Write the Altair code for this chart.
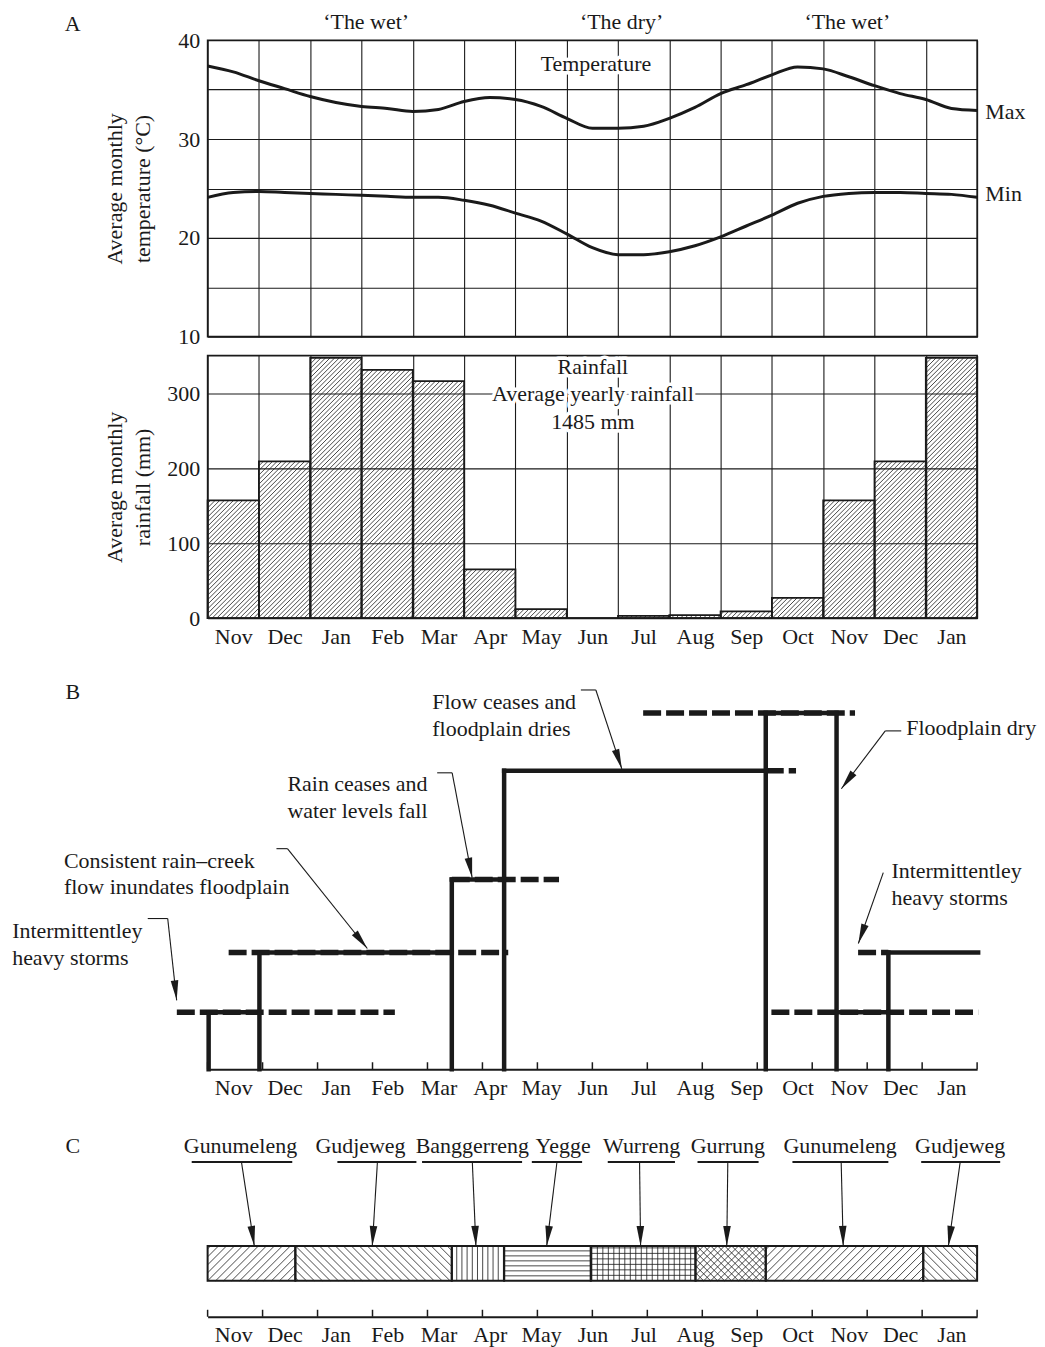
import math
import altair as alt
import pandas as pd

FONT = "Liberation Serif"
INK = "#1a1a1a"
FS = 22

# ---------------- data ----------------
months = ["Nov", "Dec", "Jan", "Feb", "Mar", "Apr", "May", "Jun",
          "Jul", "Aug", "Sep", "Oct", "Nov", "Dec", "Jan"]

# Panel A: temperature, sampled every half month (month index)
temp_u = [0, 0.5, 1, 1.5, 2, 2.5, 3, 3.5, 4, 4.5, 5, 5.5, 6, 6.5, 7, 7.5,
          8, 8.5, 9, 9.5, 10, 10.5, 11, 11.5, 12, 12.5, 13, 13.5, 14, 14.5, 15]
temp_max = [37.4, 36.8, 35.9, 35.1, 34.3, 33.7, 33.3, 33.1, 32.8, 33.0, 33.8,
            34.2, 34.0, 33.3, 32.1, 31.1, 31.1, 31.3, 32.1, 33.2, 34.6, 35.5,
            36.5, 37.3, 37.1, 36.3, 35.4, 34.6, 34.0, 33.1, 32.9]
temp_min = [24.1, 24.6, 24.7, 24.6, 24.5, 24.4, 24.3, 24.2, 24.1, 24.1, 23.8,
            23.3, 22.5, 21.7, 20.4, 19.0, 18.3, 18.3, 18.6, 19.2, 20.1, 21.2,
            22.3, 23.5, 24.2, 24.5, 24.6, 24.6, 24.5, 24.4, 24.1]

# Panel A: monthly rainfall (mm)
rainfall = [157, 209, 347, 331, 316, 65, 12, 0, 3, 4, 9, 27, 157, 209, 347]

# Panel B: relative water level steps (month index, level)
b_step_start = [0.02, 1.01, 4.76, 5.78, 10.88, 12.26, 13.27]
b_step_level = [57, 117, 190, 299, 357, 57, 117]
b_step_end = 15.02
b_dash_from = [-0.60, 0.41, 4.76, 10.88, 8.49, 10.99, 12.68]
b_dash_to = [3.65, 5.86, 6.85, 11.47, 12.62, 15.02, 13.27]
b_dash_level = [57, 117, 190, 299, 357, 57, 117]

b_note_text = ["Intermittentley\nheavy storms",
               "Consistent rain\u2013creek\nflow inundates floodplain",
               "Rain ceases and\nwater levels fall",
               "Flow ceases and\nfloodplain dries",
               "Floodplain dry",
               "Intermittentley\nheavy storms"]
b_note_u = [-3.81, -2.80, 1.556, 4.38, 13.62, 13.33]
b_note_level = [138, 209, 285.5, 367.5, 342, 198.5]
b_leaders = [
    [(-1.167, 151), (-0.778, 151), (-0.603, 69)],
    [(1.342, 221), (1.556, 221), (3.113, 121)],
    [(4.475, 297), (4.767, 297), (5.156, 192)],
    [(7.276, 380), (7.568, 380), (8.074, 301)],
    [(13.521, 339), (13.21, 339), (12.354, 281)],
    [(13.171, 197), (12.685, 126)],
]

# Panel C: seasonal calendar
c_names = ["Gunumeleng", "Gudjeweg", "Banggerreng", "Yegge", "Wurreng",
           "Gurrung", "Gunumeleng", "Gudjeweg"]
c_from = [0, 1.71, 4.76, 5.78, 7.47, 9.51, 10.88, 13.95]
c_to = [1.71, 4.76, 5.78, 7.47, 9.51, 10.88, 13.95, 15]
c_label_u = [0.64, 2.98, 5.16, 6.93, 8.46, 10.14, 12.33, 14.67]
c_line_from = [-0.31, 2.53, 4.18, 6.32, 7.80, 9.55, 11.40, 13.91]
c_line_to = [1.65, 4.07, 6.13, 7.30, 9.11, 10.74, 13.27, 15.45]
c_arrow_from = [0.66, 3.31, 5.16, 6.81, 8.42, 10.14, 12.35, 14.67]
c_arrow_to = [0.91, 3.21, 5.23, 6.61, 8.44, 10.12, 12.39, 14.44]

# ---------------- layout / styles ----------------
PLOT_W = 771
W = PLOT_W / 15.0
H_T, H_R, H_B, H_C = 297, 263, 433, 229
R_MAX = 350
C_BAR = (36, 71)
C_LINE, C_TEXT = 155, 171
PATTERN = {"Gunumeleng": ("fwd", 8.0), "Gudjeweg": ("back", 8.0),
           "Banggerreng": ("vert", 5.2), "Yegge": ("horiz", 5.0),
           "Wurreng": ("grid", 5.5), "Gurrung": ("cross", 7.0)}
ARROW = "M0,0L-0.19,-1L0.19,-1Z"
ARROW_SIZE = 1600

X = alt.Scale(domain=[0, 15], nice=False, zero=False)
YT = alt.Scale(domain=[10, 40], nice=False, zero=False)
YR = alt.Scale(domain=[0, R_MAX], nice=False, zero=False)
YB = alt.Scale(domain=[0, H_B], nice=False, zero=False)
YC = alt.Scale(domain=[0, H_C], nice=False, zero=False)

label_expr = "datum.value < 15 ? " + repr(months) + "[datum.value] : ''"


def hatch(x0, x1, y0, y1, kind, s):
    out = []
    h = y1 - y0
    if kind in ("fwd", "back", "cross"):
        dirs = ["fwd", "back"] if kind == "cross" else [kind]
        for d in dirs:
            k = math.floor((x0 - h) / s)
            while k * s <= x1:
                c = k * s
                xa, xb = max(x0, c), min(x1, c + h)
                if xb - xa > 0.4:
                    if d == "fwd":
                        out.append((xa, y0 + xa - c, xb, y0 + xb - c))
                    else:
                        out.append((xa, y1 - (xa - c), xb, y1 - (xb - c)))
                k += 1
    if kind in ("vert", "grid"):
        k = math.floor(x0 / s) + 1
        while k * s < x1 - 0.5:
            if k * s > x0 + 0.5:
                out.append((k * s, y0, k * s, y1))
            k += 1
    if kind in ("horiz", "grid"):
        j = 1
        while y0 + j * s < y1 - 0.5:
            out.append((x0, y0 + j * s, x1, y0 + j * s))
            j += 1
    return out


def angle(u1, l1, u2, l2, ky):
    dx = (u2 - u1) * W
    dy = -(l2 - l1) * ky
    return math.degrees(math.atan2(-dx, dy)) % 360


def text_layers(df, yscale, align="center", halo=True, y_axis=False):
    base = alt.Chart(df).encode(
        x=alt.X("u:Q", scale=X),
        y=alt.Y("y:Q", scale=yscale) if y_axis else alt.Y("y:Q", scale=yscale, axis=None),
        text="label:N")
    props = dict(font=FONT, fontSize=FS, align=align, baseline="middle",
                 lineBreak="\n", lineHeight=26.5)
    out = []
    if halo:
        out.append(base.mark_text(fill="white", stroke="white", strokeWidth=7,
                                  strokeJoin="round", **props))
    out.append(base.mark_text(color=INK, **props))
    return out


# ---------------- axes ----------------
AX_T = alt.Axis(values=list(range(16)), grid=True, gridColor=INK, gridWidth=1.1,
                gridOpacity=1, labels=False, ticks=False, domain=False, title=None)
AX_R = alt.Axis(values=list(range(16)), grid=True, gridColor=INK, gridWidth=1.1,
                gridOpacity=1, ticks=False, domain=False, labelExpr=label_expr,
                labelOffset=W / 2, labelPadding=8, labelFlush=False,
                labelOverlap=False, title=None)
AX_BC = alt.Axis(values=list(range(15)), grid=False, ticks=False, domain=True,
                 domainColor=INK, domainWidth=2, labelExpr=label_expr,
                 labelOffset=W / 2, labelPadding=8, labelFlush=False,
                 labelOverlap=False, title=None)
AY_T = alt.Axis(values=[10, 15, 20, 25, 30, 35, 40],
                labelExpr="datum.value % 10 == 0 ? datum.label : ''",
                grid=True, gridColor=INK, gridWidth=1.1, gridOpacity=1,
                ticks=False, domain=False, labelPadding=8,
                title=["Average monthly", "temperature (\u00b0C)"],
                titleX=-93, titleY=H_T / 2, titleAngle=270, titleBaseline="middle",
                titleAlign="center", titleLineHeight=28)
AY_R = alt.Axis(values=[0, 50, 100, 150, 200, 250, 300, 350],
                labelExpr="datum.value % 100 == 0 ? datum.label : ''",
                grid=True, gridColor=INK, gridWidth=1.1, gridOpacity=1,
                ticks=False, domain=False, labelPadding=8,
                title=["Average monthly", "rainfall (mm)"],
                titleX=-93, titleY=H_R / 2, titleAngle=270, titleBaseline="middle",
                titleAlign="center", titleLineHeight=28)

FRAME = alt.ViewBackground(stroke=INK, strokeWidth=1.6)

# ---------------- panel A: temperature ----------------
tdf = pd.DataFrame({"u": temp_u, "Max": temp_max, "Min": temp_min})
tlong = tdf.melt("u", var_name="series", value_name="y")
t_lines = alt.Chart(tlong).mark_line(interpolate="monotone", strokeWidth=3,
                                     color=INK).encode(
    x=alt.X("u:Q", scale=X, axis=AX_T),
    y=alt.Y("y:Q", scale=YT, axis=AY_T),
    detail="series:N")
t_center = pd.DataFrame({
    "label": ["A", "\u2018The wet\u2019", "\u2018The dry\u2019", "\u2018The wet\u2019", "Temperature"],
    "u": [-2.63, 3.09, 8.07, 12.47, 7.57],
    "y": [41.65, 41.85, 41.85, 41.85, 37.6]})
t_side = pd.DataFrame({"label": ["Max", "Min"], "u": [15.16, 15.16], "y": [32.7, 24.4]})
temp = alt.layer(t_lines, *text_layers(t_center, YT, y_axis=True),
                 *text_layers(t_side, YT, align="left", halo=False, y_axis=True)
                 ).properties(width=PLOT_W, height=H_T, view=FRAME)

# ---------------- panel A: rainfall ----------------
rdf = pd.DataFrame({"u": list(range(15)), "u2": list(range(1, 16)),
                    "y": [0] * 15, "y2": rainfall})
segs = []
for i, v in enumerate(rainfall):
    if v > 0:
        for xa, ya, xb, yb in hatch(i * W, (i + 1) * W, 0, v * H_R / R_MAX, "fwd", 4.6):
            segs.append({"u": xa / W, "u2": xb / W, "y": ya * R_MAX / H_R, "y2": yb * R_MAX / H_R})
r_hatch = alt.Chart(pd.DataFrame(segs)).mark_rule(strokeWidth=0.8, color=INK).encode(
    x=alt.X("u:Q", scale=X, axis=AX_R), x2="u2:Q",
    y=alt.Y("y:Q", scale=YR, axis=AY_R), y2="y2:Q")
r_bars = alt.Chart(rdf).mark_rect(fill="white", fillOpacity=0, stroke=INK,
                                  strokeWidth=1.8).encode(
    x=alt.X("u:Q", scale=X), x2="u2:Q", y=alt.Y("y:Q", scale=YR), y2="y2:Q")
r_text = pd.DataFrame({"label": ["Rainfall", "Average yearly rainfall", "1485 mm"],
                       "u": [7.51, 7.51, 7.51], "y": [335, 299, 261]})
rain = alt.layer(r_hatch, r_bars, *text_layers(r_text, YR, y_axis=True)
                 ).properties(width=PLOT_W, height=H_R, view=FRAME)

# ---------------- panel B: water levels ----------------
solid = []
prev = 0
for i, (s, lv) in enumerate(zip(b_step_start, b_step_level)):
    e = b_step_start[i + 1] if i + 1 < len(b_step_start) else b_step_end
    solid.append({"u": s, "u2": s, "y": 0, "y2": max(lv, prev)})
    solid.append({"u": s, "u2": e, "y": lv, "y2": lv})
    prev = lv
dashed = pd.DataFrame({"u": b_dash_from, "u2": b_dash_to, "y": b_dash_level, "y2": b_dash_level})
tick_pos = [k * 15 / 14 for k in range(15)]
b_ticks = pd.DataFrame({"u": tick_pos, "u2": tick_pos, "y": [0] * 15, "y2": [7] * 15})
lead, arrows = [], []
for pts in b_leaders:
    for (u1, l1), (u2, l2) in zip(pts[:-1], pts[1:]):
        lead.append({"u": u1, "u2": u2, "y": l1, "y2": l2})
    (u1, l1), (u2, l2) = pts[-2], pts[-1]
    arrows.append({"u": u2, "y": l2, "ang": angle(u1, l1, u2, l2, 1.0)})

def rules(df, yscale, first=False, **mk):
    x = alt.X("u:Q", scale=X, axis=AX_BC) if first else alt.X("u:Q", scale=X)
    return alt.Chart(pd.DataFrame(df)).mark_rule(color=INK, **mk).encode(
        x=x, x2="u2:Q", y=alt.Y("y:Q", scale=yscale, axis=None), y2="y2:Q")

def arrow_layer(df, yscale):
    return alt.Chart(pd.DataFrame(df)).mark_point(
        shape=ARROW, filled=True, color=INK, opacity=1, size=ARROW_SIZE, strokeWidth=0).encode(
        x=alt.X("u:Q", scale=X), y=alt.Y("y:Q", scale=yscale, axis=None),
        angle=alt.Angle("ang:Q", scale=None))

b_text = pd.DataFrame({"label": b_note_text, "u": b_note_u, "y": b_note_level})
b_label = pd.DataFrame({"label": ["B"], "u": [-2.63], "y": [378]})
panel_b = alt.layer(
    rules(dashed, YB, first=True, strokeWidth=5.5, strokeDash=[18, 5]),
    rules(solid, YB, strokeWidth=4.5, strokeCap="square"),
    rules(b_ticks, YB, strokeWidth=1.5),
    rules(lead, YB, strokeWidth=1.1),
    arrow_layer(arrows, YB),
    *text_layers(b_text, YB, align="left", halo=False),
    *text_layers(b_label, YB, halo=False),
).properties(width=PLOT_W, height=H_B)

# ---------------- panel C: seasons ----------------
cseg = pd.DataFrame({"u": c_from, "u2": c_to, "y": [C_BAR[0]] * 8, "y2": [C_BAR[1]] * 8})
c_h = []
for name, a, b in zip(c_names, c_from, c_to):
    kind, s = PATTERN[name]
    for xa, ya, xb, yb in hatch(a * W, b * W, C_BAR[0], C_BAR[1], kind, s):
        c_h.append({"u": xa / W, "u2": xb / W, "y": ya, "y2": yb})
c_under = [{"u": a, "u2": b, "y": C_LINE, "y2": C_LINE} for a, b in zip(c_line_from, c_line_to)]
c_lead = [{"u": a, "u2": b, "y": C_LINE, "y2": C_BAR[1]} for a, b in zip(c_arrow_from, c_arrow_to)]
c_arr = [{"u": b, "y": C_BAR[1], "ang": angle(a, C_LINE, b, C_BAR[1], 1.0)}
         for a, b in zip(c_arrow_from, c_arrow_to)]
c_ticks = pd.DataFrame({"u": tick_pos, "u2": tick_pos, "y": [0] * 15, "y2": [7] * 15})
c_text = pd.DataFrame({"label": c_names, "u": c_label_u, "y": [C_TEXT] * 8})
c_label = pd.DataFrame({"label": ["C"], "u": [-2.63], "y": [C_TEXT]})
c_rect = alt.Chart(cseg).mark_rect(fill="white", fillOpacity=0, stroke=INK,
                                   strokeWidth=2).encode(
    x=alt.X("u:Q", scale=X), x2="u2:Q", y=alt.Y("y:Q", scale=YC, axis=None), y2="y2:Q")
panel_c = alt.layer(
    rules(c_ticks, YC, first=True, strokeWidth=1.5),
    rules(c_h, YC, strokeWidth=0.8),
    c_rect,
    rules(c_under, YC, strokeWidth=2),
    rules(c_lead, YC, strokeWidth=1.1),
    arrow_layer(c_arr, YC),
    *text_layers(c_text, YC, halo=False),
    *text_layers(c_label, YC, halo=False),
).properties(width=PLOT_W, height=H_C)

chart = alt.vconcat(temp, rain, panel_b, panel_c, spacing=19, bounds="flush").properties(
    padding={"left": 4, "top": 0, "right": 0, "bottom": 0}
).configure_view(strokeWidth=0).configure_axis(
    labelFont=FONT, labelFontSize=FS, labelColor=INK, titleFont=FONT,
    titleFontSize=FS, titleColor=INK, titleFontWeight="normal")

chart.save("out.html", embed_options={"renderer": "svg", "actions": False})
